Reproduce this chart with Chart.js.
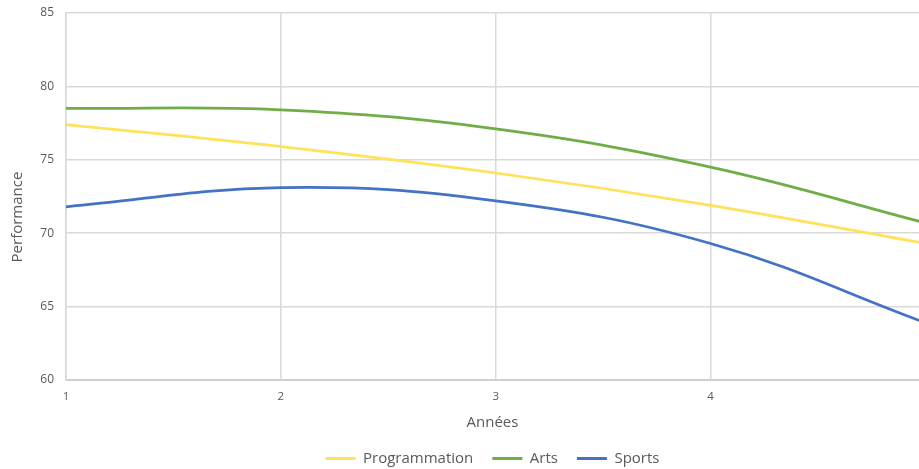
<!DOCTYPE html>
<html>
<head>
<meta charset="utf-8">
<script src="https://cdn.jsdelivr.net/npm/chart.js@4"></script>
<style>
  html, body { margin: 0; padding: 0; background: #fff; }
  #wrap { width: 919px; height: 469px; }
</style>
</head>
<body>
<div id="wrap"><canvas id="perfChart" width="919" height="469"></canvas></div>
<script>
const years = [1, 2, 3, 4, 5];
const programmation = [77.4, 75.9, 74.1, 71.9, 69.3];
const arts = [78.5, 78.4, 77.1, 74.5, 70.7];
const sports = [71.8, 73.1, 72.2, 69.3, 63.9];
const xTicks = [1, 2, 3, 4];
const yTicks = [60, 65, 70, 75, 80, 85];

const FONT = '"Open Sans", "Liberation Sans", sans-serif';
const GREY_TEXT = '#595959';
const GRID = '#d9d9d9';

const toPoints = (values) => values.map((v, i) => ({ x: years[i], y: v }));

const lineSet = (label, values, color) => ({
    label,
    data: toPoints(values),
    borderColor: color,
    backgroundColor: color,
    borderWidth: 2.75,
    tension: 0.4,
    pointRadius: 0,
    pointHoverRadius: 0,
    fill: false
});

// vertical axis title, drawn a bit below the middle of the plot
const yTitlePlugin = {
    id: 'yTitle',
    afterDraw: (chart) => {
        const { ctx } = chart;
        ctx.save();
        ctx.translate(18, 217);
        ctx.rotate(-Math.PI / 2);
        ctx.font = `15px ${FONT}`;
        ctx.fillStyle = GREY_TEXT;
        ctx.textAlign = 'center';
        ctx.textBaseline = 'middle';
        ctx.fillText('Performance', 0, 0);
        ctx.restore();
    }
};

new Chart(document.getElementById('perfChart'), {
    type: 'line',
    data: {
        datasets: [
            lineSet('Programmation', programmation, '#ffe15a'),
            lineSet('Arts', arts, '#70ad47'),
            lineSet('Sports', sports, '#4472c4')
        ]
    },
    plugins: [yTitlePlugin],
    options: {
        responsive: false,
        animation: false,
        layout: { padding: { left: 0, right: 0, top: 13, bottom: -7 } },
        scales: {
            x: {
                type: 'linear',
                min: 1,
                max: 4.97,
                afterBuildTicks: (scale) => {
                    scale.ticks = xTicks.map((value) => ({ value }));
                },
                afterFit: (scale) => {
                    scale.height = 52;
                    scale.paddingLeft = 0;
                    scale.paddingRight = 0;
                },
                grid: { color: GRID, lineWidth: 1.5, drawTicks: false },
                border: { color: '#d0d0d0', width: 2 },
                ticks: {
                    color: GREY_TEXT,
                    font: { family: FONT, size: 11.5 },
                    padding: 10,
                    maxRotation: 0
                },
                title: {
                    display: true,
                    text: 'Années',
                    color: GREY_TEXT,
                    font: { family: FONT, size: 15 },
                    padding: { top: 8, bottom: 0 }
                }
            },
            y: {
                min: 60,
                max: 85,
                afterBuildTicks: (scale) => {
                    scale.ticks = yTicks.map((value) => ({ value }));
                },
                afterFit: (scale) => {
                    scale.width = 66;
                    scale.paddingTop = 0;
                    scale.paddingBottom = 0;
                },
                grid: { color: GRID, lineWidth: 1.5, drawTicks: false },
                border: { color: GRID, width: 1.5 },
                ticks: {
                    color: GREY_TEXT,
                    font: { family: FONT, size: 12 },
                    padding: 12
                }
            }
        },
        plugins: {
            legend: {
                position: 'bottom',
                fullSize: false,
                labels: {
                    color: GREY_TEXT,
                    font: { family: FONT, size: 15 },
                    boxWidth: 30,
                    boxHeight: 0,
                    padding: 19,
                    generateLabels: (chart) => chart.data.datasets.map((ds, i) => ({
                        text: ds.label,
                        fillStyle: ds.borderColor,
                        strokeStyle: ds.borderColor,
                        lineWidth: 3,
                        fontColor: GREY_TEXT,
                        datasetIndex: i
                    }))
                }
            },
            tooltip: { enabled: false }
        }
    }
});
</script>
</body>
</html>
